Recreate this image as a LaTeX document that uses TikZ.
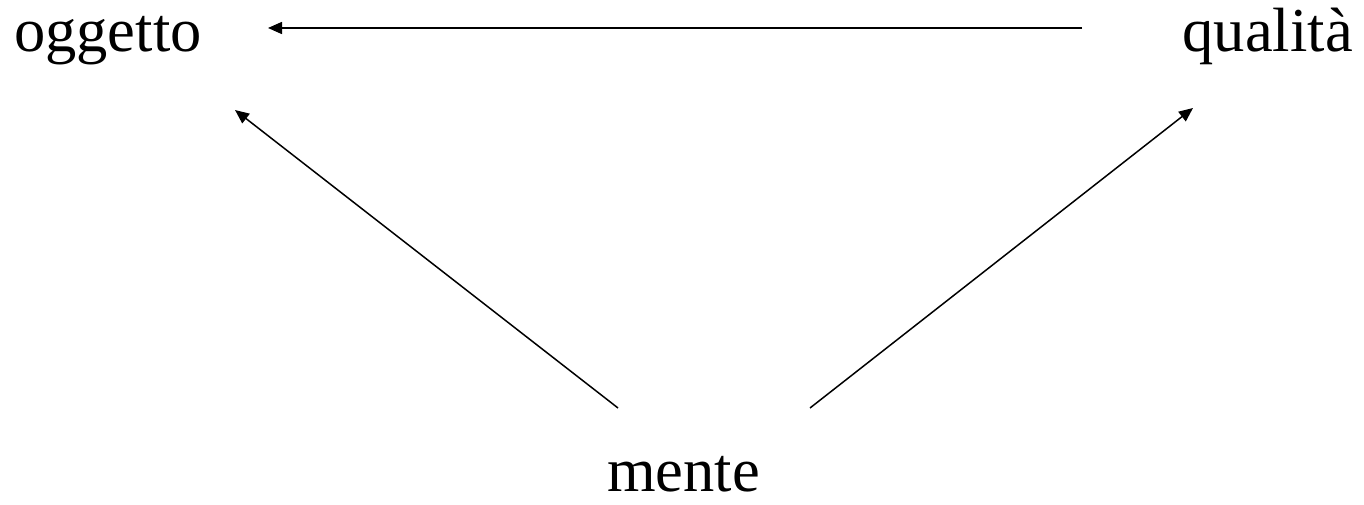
\documentclass[tikz,border=0pt]{standalone}
\usepackage{fontspec}
\setmainfont{Liberation Serif}
\usetikzlibrary{arrows.meta}
\begin{document}
\begin{tikzpicture}[x=1pt,y=-1pt,
  lbl/.style={inner sep=0pt,font=\fontsize{62.5}{70}\selectfont},
  conn/.style={line width=1.5pt,-{Triangle[length=14pt,width=12pt]}}]
\useasboundingbox (0,0) rectangle (1364,505);
\node[lbl,anchor=base west] (ogg) at (14,52) {oggetto};
\node[lbl,anchor=base east] (qua) at (1353,52) {qualità};
\node[lbl,anchor=base west] (men) at (607,491) {mente};
\coordinate (qa) at (1082,28);
\coordinate (oa) at (268,28);
\coordinate (ml) at (618,408);
\coordinate (ob) at (235,110);
\coordinate (mr) at (810,408);
\coordinate (qb) at (1193,108);
\draw[conn] (qa) -- (oa);
\draw[conn] (ml) -- (ob);
\draw[conn] (mr) -- (qb);
\end{tikzpicture}
\end{document}
